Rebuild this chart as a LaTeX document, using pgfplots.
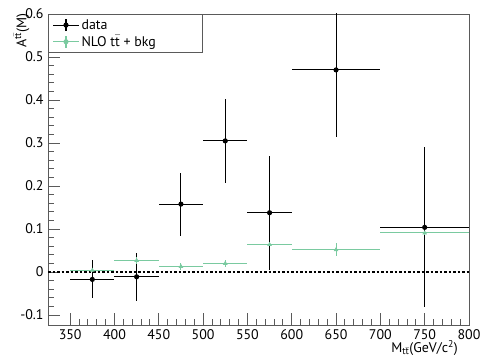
\documentclass[border=0pt]{standalone}
\usepackage{fontspec}
\setmainfont{PT Sans}
\usepackage{pgfplots}
\pgfplotsset{compat=1.18}
\usepackage{pgfplotstable}
\definecolor{nlogreen}{RGB}{122,202,160}
\definecolor{framegray}{RGB}{90,90,90}

\pgfplotstableread{
x y ex ey
375 -0.017 25 0.044
425 -0.011 25 0.056
475 0.158 25 0.073
525 0.305 25 0.098
575 0.138 25 0.133
650 0.470 50 0.155
750 0.104 50 0.186
}\datatab

\pgfplotstableread{
x y ex ey
375 0.004 25 0.003
425 0.027 25 0.008
475 0.013 25 0.007
525 0.020 25 0.009
575 0.064 25 0.004
650 0.052 50 0.015
750 0.091 50 0.004
}\nlotab

\begin{document}
\begin{tikzpicture}
\useasboundingbox (-48bp,-35bp) rectangle (454bp,325bp);
\begin{axis}[
  scale only axis,
  width=421bp, height=311bp,
  xmin=325, xmax=800,
  ymin=-0.123, ymax=0.6,
  xtick={350,400,...,800},
  ytick={-0.1,0,0.1,0.2,0.3,0.4,0.5,0.6},
  yticklabels={-0.1,0,0.1,0.2,0.3,0.4,0.5,0.6},
  minor x tick num=4,
  minor y tick num=4,
  tick pos=left,
  tick align=inside,
  major tick length=12bp,
  minor tick length=6bp,
  axis line style={framegray, line width=0.9bp},
  every tick/.style={framegray, line width=0.9bp},
  /pgf/number format/assume math mode=true,
  tick label style={font=\fontsize{14}{16}\selectfont},
  xticklabel style={yshift=-1bp},
  yticklabel style={xshift=-1bp},
  xlabel={M\textsubscript{t$\bar{\mbox{t}}$}(GeV/c\textsuperscript{2})},
  ylabel={A\textsuperscript{t$\bar{\mbox{t}}$}(M)},
  every axis x label/.style={at={(rel axis cs:1,0)}, anchor=north east, xshift=-10bp, yshift=-14bp, inner sep=1bp, font=\fontsize{14}{16}\selectfont},
  every axis y label/.style={at={(rel axis cs:0,1)}, rotate=90, anchor=south east, yshift=15bp, xshift=4bp, font=\fontsize{14}{16}\selectfont},
  legend style={at={(rel axis cs:0,1)}, anchor=north west, draw=framegray, line width=0.9bp,
    fill=white, font=\fontsize{14}{16}\selectfont, inner xsep=4bp, inner ysep=3bp,
    row sep=1bp, cells={anchor=west}},
  legend cell align=left,
  legend image code/.code={
    \draw[#1, mark=none] (0bp,0bp) -- (26bp,0bp);
    \draw[#1, mark=none] (13bp,-6bp) -- (13bp,6bp);
    \fill[#1] (13bp,0bp) circle (2bp);
  },
]
\addplot[black, line width=1.5bp, dash pattern=on 2.5bp off 2bp, forget plot] coordinates {(325,0) (800,0)};
\addplot[black, line width=1.1bp, only marks, mark=*, mark size=2bp,
  error bars/.cd, x dir=both, x explicit, y dir=both, y explicit,
  error mark=none, error bar style={line width=1.1bp, black}]
  table[x=x, y=y, x error=ex, y error=ey] {\datatab};
\addlegendentry{data}
\addplot[nlogreen, line width=1.1bp, only marks, mark=triangle*, mark size=1.6bp,
  error bars/.cd, x dir=both, x explicit, y dir=both, y explicit,
  error mark=none, error bar style={line width=1.1bp, nlogreen}]
  table[x=x, y=y, x error=ex, y error=ey] {\nlotab};
\addlegendentry{NLO t$\bar{\mbox{t}}$ + bkg\rule{40bp}{0pt}}
\end{axis}
\end{tikzpicture}
\end{document}
